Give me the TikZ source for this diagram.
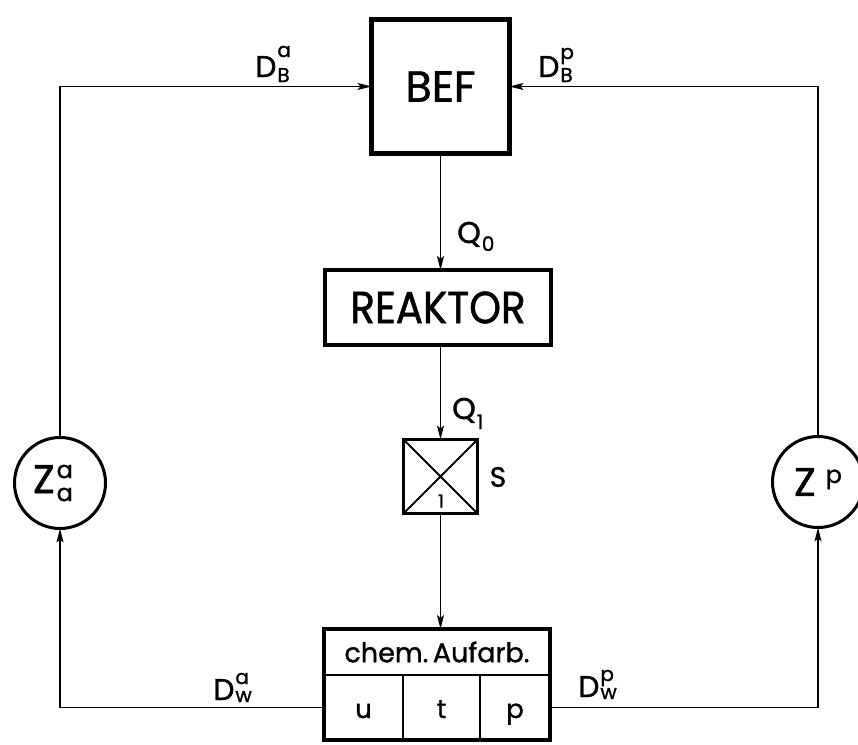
\documentclass[tikz,border=0pt]{standalone}
\usepackage{fontspec}
\setmainfont{Poppins}[UprightFeatures={FakeBold=1.2}]
\usetikzlibrary{arrows.meta}
\newcommand{\fs}[1]{\fontsize{#1}{#1}\selectfont}
% base, sup, sub, raise sup, lower sub
\newcommand{\lbl}[5]{{\fs{30}#1}\kern1pt{\fs{20}\rlap{\raisebox{#4}{#2}}\raisebox{#5}{#3}}}
\begin{document}
\begin{tikzpicture}[x=1pt,y=-1pt,
  box/.style={draw, line width=4.5pt, inner sep=0pt, outer sep=0pt},
  cell/.style={draw, line width=2pt, inner sep=0pt, outer sep=0pt},
  flow/.style={line width=1.4pt, -{Stealth[length=14pt,width=7pt,inset=3pt]}},
  ring/.style={draw, circle, line width=3pt, minimum size=91pt, inner sep=0pt, outer sep=0pt},
  lbl/.style={inner sep=0pt, anchor=base west}]
\useasboundingbox (0,0) rectangle (858,744);
\fill[white] (0,0) rectangle (858,744);
% blocks
\node[box, minimum width=138pt, minimum height=134pt] (bef) at (440.5,86.5) {\fs{43}BEF};
\node[box, minimum width=226pt, minimum height=75pt] (reak) at (438,307.5) {\scalebox{0.9}[1]{\fs{45}REAKTOR}};
\node[box, line width=3pt, minimum size=74pt] (s) at (440.5,476.5) {};
\draw[line width=2pt] (s.north west) -- (s.south east) (s.north east) -- (s.south west);
\node[inner sep=0pt] (one) at (441,501) {\fs{18}1};
\node[inner sep=0pt] (slab) at (498,477) {\fs{28}S};
% chem. Aufarb. block
\node[cell, minimum width=226pt, minimum height=46pt] (chem) at (437,652) {\fs{27}chem.\,Aufarb.};
\node[cell, minimum width=79pt, minimum height=65pt, text height=25pt, text depth=4pt] (u) at (363.5,707.5) {\fs{26}u};
\node[cell, minimum width=77pt, minimum height=65pt, text height=25pt, text depth=4pt] (t) at (441.5,707.5) {\fs{26}t};
\node[cell, minimum width=70pt, minimum height=65pt, text height=25pt, text depth=4pt] (p) at (515,707.5) {\fs{26}p};
\draw[line width=4.5pt] (chem.north west) rectangle (p.south east);
% circles
\node[ring] (za) at (60,483) {{\fs{40}Z}\kern2pt{\fs{24}\rlap{\raisebox{15pt}{a}}\raisebox{-8pt}{a}}\hspace*{14pt}};
\node[ring] (zp) at (818,482) {{\fs{40}Z}\kern10pt{\fs{24}\raisebox{13pt}{p}}};
% connectors
\draw[flow] (za.north) |- (bef.west);
\draw[flow] (zp.north) |- (bef.east);
\draw[flow] (bef.south) -- (bef.south |- reak.north);
\draw[flow] (s.north |- reak.south) -- (s.north);
\draw[flow] (s.south) -- (s.south |- chem.north);
\draw[flow] (u.west) -| (za.south);
\draw[flow] (p.east) -| (zp.south);
% labels
\node[lbl] (q0) at (457,243) {\lbl{Q}{}{0}{0pt}{-8pt}};
\node[lbl] (q1) at (452,419) {\lbl{Q}{}{1}{0pt}{-10pt}};
\node[lbl] (dba) at (255,77) {\lbl{D}{a}{B}{20pt}{-5pt}};
\node[lbl] (dbp) at (538,77) {\lbl{D}{p}{B}{18pt}{-5pt}};
\node[lbl] (dwa) at (213,700) {\lbl{D}{a}{w}{16pt}{-2pt}};
\node[lbl] (dwp) at (578,697) {\lbl{D}{p}{w}{16pt}{-2pt}};
\end{tikzpicture}
\end{document}
